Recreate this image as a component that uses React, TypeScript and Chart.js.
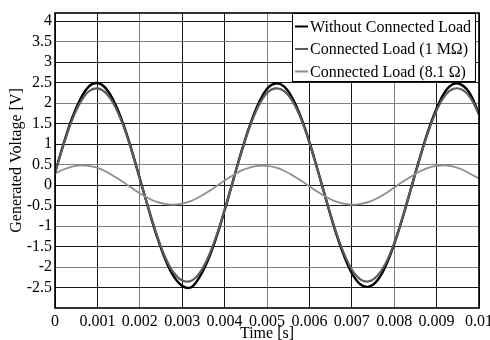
import React, { useEffect, useRef } from 'react';
import { Chart, registerables } from 'chart.js';

Chart.register(...registerables);

const timeSeconds = [
  0, 0.0002, 0.0004, 0.0006, 0.0008, 0.001, 0.0012, 0.0014, 0.0016, 0.0018,
  0.002, 0.0022, 0.0024, 0.0026, 0.0028, 0.003, 0.0032, 0.0034, 0.0036, 0.0038,
  0.004, 0.0042, 0.0044, 0.0046, 0.0048, 0.005, 0.0052, 0.0054, 0.0056, 0.0058,
  0.006, 0.0062, 0.0064, 0.0066, 0.0068, 0.007, 0.0072, 0.0074, 0.0076, 0.0078,
  0.008, 0.0082, 0.0084, 0.0086, 0.0088, 0.009, 0.0092, 0.0094, 0.0096, 0.0098,
  0.01,
];

const withoutLoad = [
  0.30, 1.00, 1.63, 2.10, 2.41, 2.49, 2.36, 2.02, 1.52, 0.88,
  0.16, -0.56, -1.24, -1.81, -2.23, -2.46, -2.50, -2.26, -1.85, -1.29,
  -0.62, 0.11, 0.83, 1.47, 1.99, 2.35, 2.48, 2.41, 2.12, 1.66,
  1.05, 0.35, -0.38, -1.08, -1.68, -2.15, -2.42, -2.48, -2.33, -1.97,
  -1.44, -0.79, -0.07, 0.65, 1.32, 1.87, 2.28, 2.47, 2.44, 2.21,
  1.74,
];

const load1MOhm = [
  0.29, 0.98, 1.58, 2.02, 2.29, 2.36, 2.25, 1.95, 1.48, 0.86,
  0.16, -0.55, -1.21, -1.76, -2.14, -2.33, -2.34, -2.16, -1.79, -1.26,
  -0.61, 0.11, 0.81, 1.44, 1.93, 2.25, 2.36, 2.30, 2.05, 1.62,
  1.03, 0.34, -0.37, -1.05, -1.63, -2.06, -2.30, -2.35, -2.22, -1.91,
  -1.41, -0.78, -0.07, 0.64, 1.29, 1.82, 2.19, 2.35, 2.33, 2.13,
  1.72,
];

const load8Ohm = [
  0.28, 0.38, 0.45, 0.48, 0.47, 0.42, 0.33, 0.21, 0.08, -0.06,
  -0.20, -0.32, -0.41, -0.46, -0.48, -0.45, -0.39, -0.29, -0.17, -0.03,
  0.11, 0.24, 0.36, 0.43, 0.47, 0.47, 0.43, 0.35, 0.24, 0.11,
  -0.03, -0.17, -0.29, -0.39, -0.45, -0.48, -0.46, -0.41, -0.32, -0.20,
  -0.06, 0.08, 0.21, 0.33, 0.42, 0.47, 0.48, 0.45, 0.38, 0.27,
  0.16,
];

const seriesLabels = ['Without Connected Load', 'Connected Load (1 MΩ)', 'Connected Load (8.1 Ω)'];
const seriesColors = ['#000000', '#5c5c5c', '#8e8e8e'];

const yTickValues = [-2.5, -2, -1.5, -1, -0.5, 0, 0.5, 1, 1.5, 2, 2.5, 3, 3.5, 4];
const xTickValues = [0, 0.001, 0.002, 0.003, 0.004, 0.005, 0.006, 0.007, 0.008, 0.009, 0.01];
const yGrayGrid = [3.5, 2, 0.5, -1, -2];
const xGrayGrid = [0.002, 0.005, 0.008];

const FONT = '"Liberation Serif", "Times New Roman", serif';

const near = (list: number[], v: number) => list.some((g) => Math.abs(g - v) < 1e-9);

const boxLegend = {
  id: 'boxLegend',
  afterDatasetsDraw(chart: any) {
    const { ctx, chartArea } = chart;
    const right = chartArea.right - 4;
    const left = right - 183;
    const top = chartArea.top;
    const h = 68;
    ctx.save();
    ctx.fillStyle = '#ffffff';
    ctx.fillRect(left, top, right - left, h);
    ctx.strokeStyle = '#000';
    ctx.lineWidth = 1;
    ctx.strokeRect(left + 0.5, top + 0.5, right - left, h);
    ctx.font = `16px ${FONT}`;
    ctx.textBaseline = 'middle';
    ctx.textAlign = 'left';
    chart.data.datasets.forEach((ds: any, i: number) => {
      const y = top + 13.5 + i * 22.5;
      ctx.strokeStyle = ds.borderColor;
      ctx.lineWidth = 2;
      ctx.beginPath();
      ctx.moveTo(left + 3, y);
      ctx.lineTo(left + 16, y);
      ctx.stroke();
      ctx.fillStyle = '#000';
      ctx.fillText(ds.label, left + 18, y + 1);
    });
    ctx.restore();
  },
};

const frameBorder = {
  id: 'frameBorder',
  afterDraw(chart: any) {
    const { ctx, chartArea } = chart;
    ctx.save();
    ctx.strokeStyle = '#000';
    ctx.lineWidth = 1.6;
    ctx.strokeRect(chartArea.left, chartArea.top, chartArea.right - chartArea.left, chartArea.bottom - chartArea.top);
    ctx.restore();
  },
};

export default function App() {
  const canvasRef = useRef<HTMLCanvasElement | null>(null);

  useEffect(() => {
    if (!canvasRef.current) return;
    const series = [withoutLoad, load1MOhm, load8Ohm];
    const widths = [2.4, 2.2, 1.8];
    const orders = [3, 2, 1];
    const chart = new Chart(canvasRef.current, {
      type: 'line',
      data: {
        datasets: series.map((vals, i) => ({
          label: seriesLabels[i],
          data: timeSeconds.map((t, k) => ({ x: t, y: vals[k] })),
          borderColor: seriesColors[i],
          backgroundColor: seriesColors[i],
          borderWidth: widths[i],
          pointRadius: 0,
          tension: 0.4,
          fill: false,
          order: orders[i],
        })),
      },
      options: {
        animation: false,
        responsive: true,
        maintainAspectRatio: false,
        layout: { padding: { top: 13, right: 11, left: 0, bottom: 0 } },
        plugins: { legend: { display: false }, tooltip: { enabled: false } },
        scales: {
          x: {
            type: 'linear',
            min: 0,
            max: 0.01,
            afterBuildTicks: (s: any) => {
              s.ticks = xTickValues.map((v) => ({ value: v }));
            },
            afterFit: (s: any) => {
              s.height = 32;
              s.paddingLeft = 0;
              s.paddingRight = 0;
            },
            ticks: {
              autoSkip: false,
              maxRotation: 0,
              minRotation: 0,
              padding: 6,
              color: '#000',
              font: { family: FONT, size: 16, lineHeight: 1 },
              callback: (v: any) => String(parseFloat(Number(v).toFixed(4))),
            },
            grid: {
              drawTicks: false,
              lineWidth: 1,
              color: (c: any) => (c.tick && near(xGrayGrid, c.tick.value) ? '#808080' : '#1a1a1a'),
            },
            border: { display: false },
            title: {
              display: true,
              text: 'Time [s]',
              color: '#000',
              font: { family: FONT, size: 16, lineHeight: 1 },
              padding: { top: 0, bottom: -2 },
            },
          },
          y: {
            type: 'linear',
            min: -3,
            max: 4.2,
            afterBuildTicks: (s: any) => {
              s.ticks = yTickValues.map((v) => ({ value: v }));
            },
            afterFit: (s: any) => {
              s.width = 55;
              s.paddingTop = 0;
              s.paddingBottom = 0;
            },
            ticks: {
              padding: 3,
              color: '#000',
              font: { family: FONT, size: 16, lineHeight: 1 },
              callback: (v: any) => String(v),
            },
            grid: {
              drawTicks: false,
              lineWidth: 1,
              color: (c: any) => (c.tick && near(yGrayGrid, c.tick.value) ? '#808080' : '#1a1a1a'),
            },
            border: { display: false },
            title: {
              display: true,
              text: 'Generated Voltage [V]',
              color: '#000',
              font: { family: FONT, size: 16, lineHeight: 1 },
              padding: { top: 9, bottom: 0 },
            },
          },
        },
      },
      plugins: [boxLegend, frameBorder],
    } as any);
    return () => chart.destroy();
  }, []);

  return (
    <div style={{ position: 'fixed', left: 0, top: 0, width: 490, height: 340, background: '#fff' }}>
      <canvas ref={canvasRef} />
    </div>
  );
}
